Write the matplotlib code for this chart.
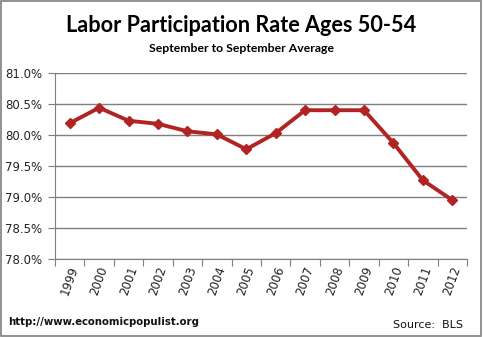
import matplotlib
matplotlib.use('Agg')
import matplotlib.pyplot as plt
from matplotlib.ticker import FixedLocator, FuncFormatter
from matplotlib.patches import Rectangle

# values (percent)
years = ['1999', '2000', '2001', '2002', '2003', '2004', '2005',
         '2006', '2007', '2008', '2009', '2010', '2011', '2012']
rate = [80.19, 80.44, 80.23, 80.18, 80.06, 80.01, 79.77,
        80.03, 80.40, 80.40, 80.40, 79.87, 79.27, 78.95]
y_ticks = [78.0, 78.5, 79.0, 79.5, 80.0, 80.5, 81.0]

fig = plt.figure(figsize=(4.83, 3.37), dpi=100)
ax = fig.add_axes([55 / 483, 1 - 259 / 337, 412 / 483, 186 / 337])

x = list(range(len(years)))
ax.plot(x, rate, color='#B22424', lw=2.8, marker='D', ms=5.5,
        markeredgecolor='#B22424', zorder=3)

ax.set_xlim(-0.5, len(years) - 0.5)
ax.set_ylim(78.0, 81.0)
ax.yaxis.set_major_locator(FixedLocator(y_ticks))
ax.yaxis.set_major_formatter(FuncFormatter(lambda v, p: '%.1f%%' % v))
ax.grid(axis='y', color='#7f7f7f', lw=1)
ax.set_axisbelow(True)

# category ticks between the years, labels centred on them
ax.set_xticks([i - 0.5 for i in range(len(years) + 1)])
ax.set_xticklabels([])
ax.set_xticks(x, minor=True)
ax.set_xticklabels(years, minor=True, rotation=70, ha='center', va='top',
                   fontsize=8.5, color='#222222')
ax.tick_params(axis='x', which='minor', length=0, pad=4)
ax.tick_params(axis='x', which='major', length=5, color='#7f7f7f', direction='out')
ax.tick_params(axis='y', length=5, color='#7f7f7f', direction='out',
               labelsize=8.5, labelcolor='#222222', pad=4)

for s in ['top', 'right']:
    ax.spines[s].set_visible(False)
for s in ['left', 'bottom']:
    ax.spines[s].set_color('#7f7f7f')

fig.text(0.5, 1 - 26 / 337, 'Labor Participation Rate Ages 50-54',
         ha='center', va='center', fontsize=15.6, fontweight='bold', family='Lato')
fig.text(0.5, 1 - 49 / 337, 'September to September Average',
         ha='center', va='center', fontsize=8.8, fontweight='bold', family='Lato')
fig.text(8 / 483, 1 - 322 / 337, 'http://www.economicpopulist.org',
         ha='left', va='center', fontsize=7.3, fontweight='bold', color='#111111')
fig.text(463 / 483, 1 - 325 / 337, 'Source:  BLS',
         ha='right', va='center', fontsize=8, color='#111111')

fig.patches.append(Rectangle((0.002, 0.003), 0.994, 0.994, transform=fig.transFigure,
                             fill=False, edgecolor='#7f7f7f', lw=1.2))

fig.savefig('out.png', dpi=100)
